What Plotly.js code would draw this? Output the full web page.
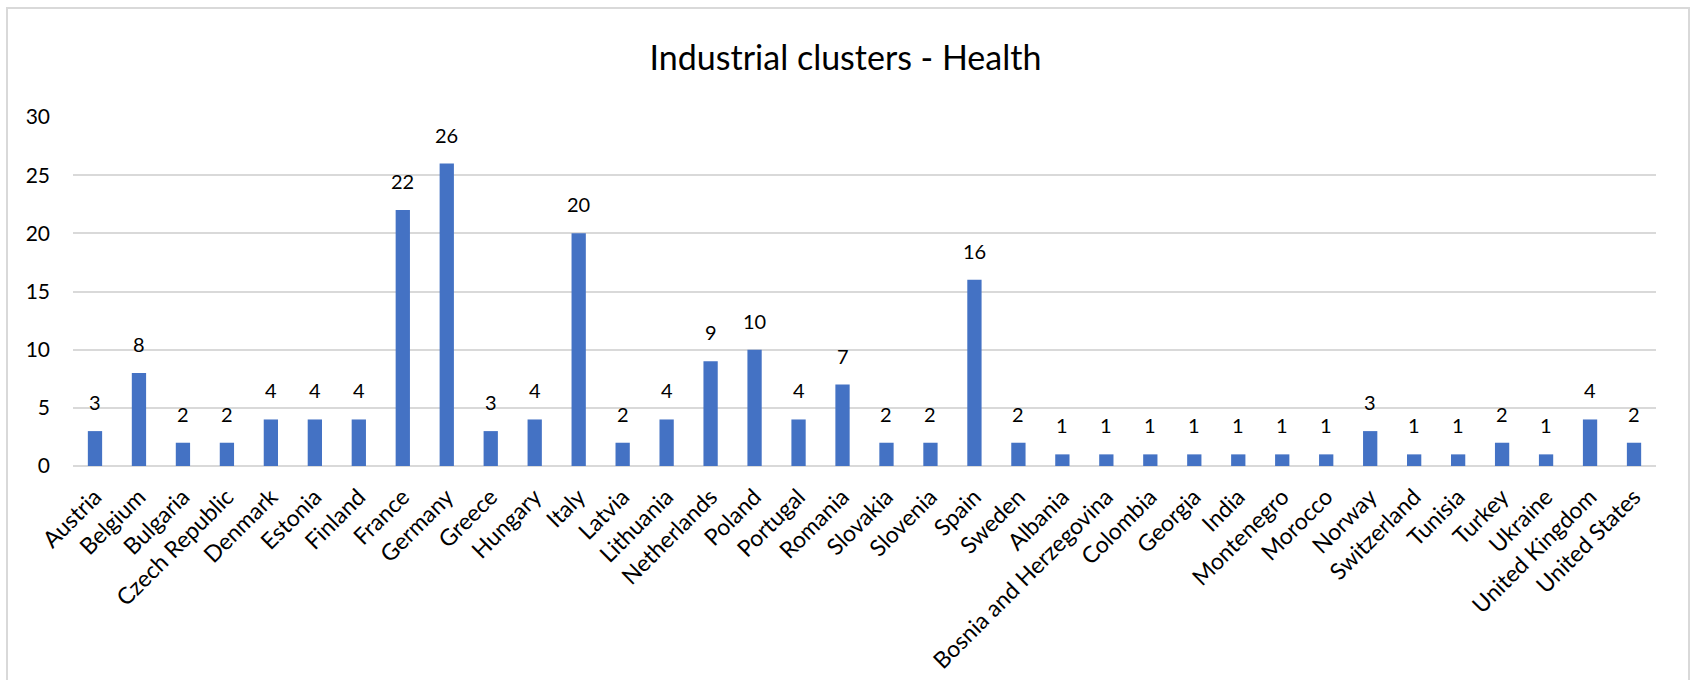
<!DOCTYPE html>
<html><head><meta charset="utf-8">
<script src="https://cdn.plot.ly/plotly-3.0.1.min.js"></script>
<style>
html,body{margin:0;padding:0;background:#fff;overflow:hidden;}
#chart{position:absolute;left:0;top:0;width:1691px;height:680px;}
#frame{position:absolute;left:6px;top:7px;width:1684px;height:700px;border:2px solid #D9D9D9;pointer-events:none;box-sizing:border-box;}
</style></head>
<body>
<div id="chart"></div>
<div id="frame"></div>
<script>
const countries = ["Austria","Belgium","Bulgaria","Czech Republic","Denmark","Estonia","Finland","France","Germany","Greece","Hungary","Italy","Latvia","Lithuania","Netherlands","Poland","Portugal","Romania","Slovakia","Slovenia","Spain","Sweden","Albania","Bosnia and Herzegovina","Colombia","Georgia","India","Montenegro","Morocco","Norway","Switzerland","Tunisia","Turkey","Ukraine","United Kingdom","United States"];
const clusters = [3,8,2,2,4,4,4,22,26,3,4,20,2,4,9,10,4,7,2,2,16,2,1,1,1,1,1,1,1,3,1,1,2,1,4,2];
const yTicks = [0,5,10,15,20,25,30];
const FONT = "Lato, 'Open Sans', sans-serif";

const labels = countries.map((c, i) => ({
  x: c, y: clusters[i], xref: 'x', yref: 'y', text: String(clusters[i]),
  showarrow: false, yanchor: 'bottom', yshift: 15,
  font: {family: FONT, size: 20, color: '#000'}
}));

Plotly.newPlot('chart', [{
  type: 'bar',
  x: countries,
  y: clusters,
  marker: {color: '#4472C4'},
  hoverinfo: 'x+y'
}], {
  width: 1691, height: 680,
  margin: {l: 73, r: 35, t: 117, b: 214},
  paper_bgcolor: '#fff', plot_bgcolor: '#fff',
  bargap: 0.675,
  title: {text: 'Industrial clusters - Health', x: 0.5, xref: 'container', xanchor: 'center', y: 1 - 58/680, yanchor: 'middle',
          font: {family: FONT, size: 34, color: '#000'}},
  font: {family: FONT, color: '#000'},
  showlegend: false,
  annotations: labels,
  xaxis: {type: 'category', tickangle: -45, tickfont: {family: FONT, size: 23, color: '#000'},
          showgrid: false, zeroline: false, showline: false, ticks: '', ticklabelstandoff: 12, automargin: false},
  yaxis: {range: [0, 30], tickvals: yTicks, ticktext: yTicks.map(String), showgrid: true, gridcolor: '#D9D9D9', gridwidth: 2,
          zeroline: true, zerolinecolor: '#D9D9D9', zerolinewidth: 2, showline: false, ticks: '',
          tickfont: {family: FONT, size: 21, color: '#000'}, ticklabelstandoff: 22, automargin: false}
}, {displayModeBar: false, staticPlot: true});
</script>
</body></html>
